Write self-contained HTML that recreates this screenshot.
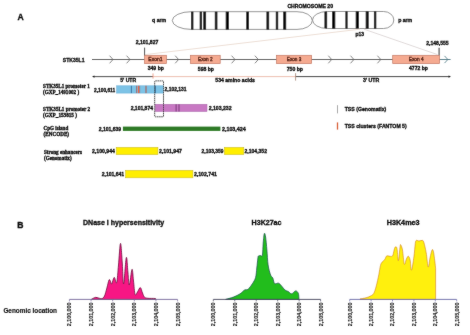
<!DOCTYPE html>
<html><head><meta charset="utf-8"><style>
html,body{margin:0;padding:0;background:#fff;}
svg{display:block;will-change:transform;}

</style></head><body>
<svg width="470" height="335" viewBox="0 0 470 335">
<rect width="470" height="335" fill="#fff"/>
<filter id="bl" filterUnits="userSpaceOnUse" x="0" y="0" width="470" height="335"><feConvolveMatrix order="3" kernelMatrix="0.0188 0.0375 0.0188 0.0375 0.7750 0.0375 0.0188 0.0375 0.0188" edgeMode="duplicate" preserveAlpha="false"/></filter>
<g filter="url(#bl)">
<text x="17.6" y="19.7" font-size="8.6" font-weight="bold" style="font-family:'Liberation Sans', sans-serif" fill="#111" text-anchor="start"  stroke="#111" stroke-width="0.34">A</text>
<defs><clipPath id="chr"><path d="M191.3,11.7 L297,11.7 A15.3,8.85 0 0 1 297,29.4 L191.3,29.4 A19.0,8.85 0 0 1 191.3,11.7 Z"/><path d="M327.5,11.5 L383.5,11.5 A10.3,8.5 0 0 1 383.5,28.5 L327.5,28.5 A15,8.5 0 0 1 327.5,11.5 Z"/></clipPath></defs>
<path d="M191.3,11.7 L297,11.7 A15.3,8.85 0 0 1 297,29.4 L191.3,29.4 A19.0,8.85 0 0 1 191.3,11.7 Z" fill="#fff" stroke="#777" stroke-width="0.8"/>
<path d="M327.5,11.5 L383.5,11.5 A10.3,8.5 0 0 1 383.5,28.5 L327.5,28.5 A15,8.5 0 0 1 327.5,11.5 Z" fill="#fff" stroke="#777" stroke-width="0.8"/>
<g clip-path="url(#chr)" fill="#000">
<rect x="191.02" y="10" width="2.35" height="21"/>
<rect x="199.72" y="10" width="2.35" height="21"/>
<rect x="203.32" y="10" width="2.75" height="21"/>
<rect x="214.82" y="10" width="2.55" height="21"/>
<rect x="225.73" y="10" width="3.15" height="21"/>
<rect x="246.28" y="10" width="2.65" height="21"/>
<rect x="266.48" y="10" width="2.65" height="21"/>
<rect x="275.82" y="10" width="2.35" height="21"/>
<rect x="283.22" y="10" width="2.95" height="21"/>
<rect x="324.48" y="10" width="2.65" height="21"/>
<rect x="332.12" y="10" width="3.15" height="21"/>
<rect x="345.43" y="10" width="2.15" height="21"/>
<rect x="355.73" y="10" width="3.15" height="21"/>
<rect x="365.72" y="10" width="2.95" height="21"/>
<rect x="373.93" y="10" width="2.35" height="21"/>
</g>
<text x="287.4" y="7.5" font-size="5.3" font-weight="bold" style="font-family:'Liberation Sans', sans-serif" fill="#111" text-anchor="start" textLength="45.6" lengthAdjust="spacingAndGlyphs"  stroke="#111" stroke-width="0.34">CHROMOSOME 20</text>
<text x="152.1" y="21.9" font-size="5.6" font-weight="bold" style="font-family:'Liberation Sans', sans-serif" fill="#111" text-anchor="start" textLength="14" lengthAdjust="spacingAndGlyphs"  stroke="#111" stroke-width="0.34">q arm</text>
<text x="398.2" y="22.2" font-size="5.6" font-weight="bold" style="font-family:'Liberation Sans', sans-serif" fill="#111" text-anchor="start" textLength="14" lengthAdjust="spacingAndGlyphs"  stroke="#111" stroke-width="0.34">p arm</text>
<text x="355.5" y="36.3" font-size="5.6" font-weight="bold" style="font-family:'Liberation Sans', sans-serif" fill="#111" text-anchor="start" textLength="8.6" lengthAdjust="spacingAndGlyphs"  stroke="#111" stroke-width="0.34">p13</text>
<line x1="145" y1="54.6" x2="360" y2="29.2" stroke="#eddfd6" stroke-width="1"/>
<line x1="364" y1="29.2" x2="437.5" y2="54.6" stroke="#e0dada" stroke-width="1"/>
<line x1="92" y1="59.5" x2="440" y2="59.5" stroke="#555" stroke-width="0.9"/>
<line x1="439.7" y1="59.5" x2="450.6" y2="59.5" stroke="#4d7683" stroke-width="0.9"/>
<polyline points="109.6,55.7 113,59.5 109.6,63.3" fill="none" stroke="#666" stroke-width="0.8"/>
<polyline points="126.6,55.7 130,59.5 126.6,63.3" fill="none" stroke="#666" stroke-width="0.8"/>
<polyline points="175.2,55.7 178.6,59.5 175.2,63.3" fill="none" stroke="#666" stroke-width="0.8"/>
<polyline points="231.6,55.7 235,59.5 231.6,63.3" fill="none" stroke="#666" stroke-width="0.8"/>
<polyline points="254.9,55.7 258.3,59.5 254.9,63.3" fill="none" stroke="#666" stroke-width="0.8"/>
<polyline points="328.3,55.7 331.7,59.5 328.3,63.3" fill="none" stroke="#666" stroke-width="0.8"/>
<polyline points="350.5,55.7 353.9,59.5 350.5,63.3" fill="none" stroke="#666" stroke-width="0.8"/>
<polyline points="377.40000000000003,55.7 380.8,59.5 377.40000000000003,63.3" fill="none" stroke="#666" stroke-width="0.8"/>
<polyline points="444.5,55.9 447.9,59.5 444.5,63.1" fill="none" stroke="#4d7683" stroke-width="0.8"/>
<text x="62.8" y="61.9" font-size="5.8" font-weight="bold" style="font-family:'Liberation Sans', sans-serif" fill="#111" text-anchor="start" textLength="21.7" lengthAdjust="spacingAndGlyphs"  stroke="#111" stroke-width="0.34">STK35L1</text>
<rect x="144.5" y="55.3" width="21.900000000000006" height="8.3" fill="#f5aa91" stroke="#c47a66" stroke-width="0.7"/>
<text x="155.45" y="61.2" font-size="5.4" font-weight="normal" style="font-family:'Liberation Sans', sans-serif" fill="#4a1608" text-anchor="middle" textLength="14.2" lengthAdjust="spacingAndGlyphs" stroke="#4a1608" stroke-width="0.35">Exon1</text>
<rect x="190.4" y="55.3" width="29.799999999999983" height="8.3" fill="#f5aa91" stroke="#c47a66" stroke-width="0.7"/>
<text x="205.3" y="61.2" font-size="5.4" font-weight="normal" style="font-family:'Liberation Sans', sans-serif" fill="#4a1608" text-anchor="middle" textLength="14.6" lengthAdjust="spacingAndGlyphs" stroke="#4a1608" stroke-width="0.35">Exon 2</text>
<rect x="276.5" y="55.3" width="35.10000000000002" height="8.3" fill="#f5aa91" stroke="#c47a66" stroke-width="0.7"/>
<text x="294.05" y="61.2" font-size="5.4" font-weight="normal" style="font-family:'Liberation Sans', sans-serif" fill="#4a1608" text-anchor="middle" textLength="14.6" lengthAdjust="spacingAndGlyphs" stroke="#4a1608" stroke-width="0.35">Exon 3</text>
<rect x="392.7" y="55.3" width="46.900000000000034" height="8.3" fill="#f5aa91" stroke="#c47a66" stroke-width="0.7"/>
<text x="416.15" y="61.2" font-size="5.4" font-weight="normal" style="font-family:'Liberation Sans', sans-serif" fill="#4a1608" text-anchor="middle" textLength="14.9" lengthAdjust="spacingAndGlyphs" stroke="#4a1608" stroke-width="0.35">Exon 4</text>
<line x1="144.6" y1="47.6" x2="144.6" y2="55.3" stroke="#555" stroke-width="1"/>
<line x1="439.1" y1="47.8" x2="439.1" y2="55.3" stroke="#555" stroke-width="1.2"/>
<text x="135.7" y="44.3" font-size="5.6" font-weight="bold" style="font-family:'Liberation Sans', sans-serif" fill="#111" text-anchor="start" textLength="22.6" lengthAdjust="spacingAndGlyphs"  stroke="#111" stroke-width="0.34">2,101,827</text>
<text x="426.2" y="45.2" font-size="5.6" font-weight="bold" style="font-family:'Liberation Sans', sans-serif" fill="#111" text-anchor="start" textLength="22.5" lengthAdjust="spacingAndGlyphs"  stroke="#111" stroke-width="0.34">2,148,555</text>
<text x="147.7" y="70.2" font-size="5.6" font-weight="bold" style="font-family:'Liberation Sans', sans-serif" fill="#111" text-anchor="start" textLength="16.2" lengthAdjust="spacingAndGlyphs"  stroke="#111" stroke-width="0.34">349 bp</text>
<text x="197.8" y="70.6" font-size="5.6" font-weight="bold" style="font-family:'Liberation Sans', sans-serif" fill="#111" text-anchor="start" textLength="16.2" lengthAdjust="spacingAndGlyphs"  stroke="#111" stroke-width="0.34">598 bp</text>
<text x="286.7" y="70.5" font-size="5.6" font-weight="bold" style="font-family:'Liberation Sans', sans-serif" fill="#111" text-anchor="start" textLength="16.3" lengthAdjust="spacingAndGlyphs"  stroke="#111" stroke-width="0.34">750 bp</text>
<text x="409" y="70.2" font-size="5.6" font-weight="bold" style="font-family:'Liberation Sans', sans-serif" fill="#111" text-anchor="start" textLength="18.9" lengthAdjust="spacingAndGlyphs"  stroke="#111" stroke-width="0.34">4772 bp</text>
<line x1="93" y1="76.6" x2="153" y2="76.6" stroke="#222" stroke-width="0.8"/>
<polygon points="92,76.6 94.5,75.39999999999999 94.5,77.8" fill="#222"/>
<line x1="153" y1="76.6" x2="295.6" y2="76.6" stroke="#e6a590" stroke-width="0.7"/>
<line x1="295.6" y1="76.6" x2="450" y2="76.6" stroke="#333" stroke-width="0.9"/>
<polygon points="451,76.6 448.5,75.39999999999999 448.5,77.8" fill="#222"/>
<line x1="153" y1="73.4" x2="153" y2="78.6" stroke="#e8907a" stroke-width="0.8"/>
<line x1="295.6" y1="73.2" x2="295.6" y2="80.6" stroke="#a08070" stroke-width="0.8"/>
<text x="120.2" y="82.0" font-size="5.6" font-weight="bold" style="font-family:'Liberation Sans', sans-serif" fill="#111" text-anchor="start" textLength="16" lengthAdjust="spacingAndGlyphs"  stroke="#111" stroke-width="0.34">5' UTR</text>
<text x="215.3" y="82.2" font-size="5.6" font-weight="bold" style="font-family:'Liberation Sans', sans-serif" fill="#111" text-anchor="start" textLength="39.6" lengthAdjust="spacingAndGlyphs"  stroke="#111" stroke-width="0.34">534 amino acids</text>
<text x="362.9" y="82.3" font-size="5.6" font-weight="bold" style="font-family:'Liberation Sans', sans-serif" fill="#111" text-anchor="start" textLength="16.4" lengthAdjust="spacingAndGlyphs"  stroke="#111" stroke-width="0.34">3' UTR</text>
<text x="43.1" y="88.0" font-size="5.3" font-weight="bold" style="font-family:'Liberation Serif', serif" fill="#111" text-anchor="start" textLength="46.6" lengthAdjust="spacingAndGlyphs"  stroke="#111" stroke-width="0.35">STK35L1 promoter 1</text>
<text x="43.1" y="93.9" font-size="5.3" font-weight="bold" style="font-family:'Liberation Serif', serif" fill="#111" text-anchor="start" textLength="36" lengthAdjust="spacingAndGlyphs"  stroke="#111" stroke-width="0.35">(GXP_1491002 )</text>
<text x="43.1" y="111.0" font-size="5.3" font-weight="bold" style="font-family:'Liberation Serif', serif" fill="#111" text-anchor="start" textLength="47" lengthAdjust="spacingAndGlyphs"  stroke="#111" stroke-width="0.35">STK35L1 promoter 2</text>
<text x="43.1" y="116.9" font-size="5.3" font-weight="bold" style="font-family:'Liberation Serif', serif" fill="#111" text-anchor="start" textLength="33.9" lengthAdjust="spacingAndGlyphs"  stroke="#111" stroke-width="0.35">(GXP_153815 )</text>
<text x="43.6" y="129.5" font-size="5.3" font-weight="bold" style="font-family:'Liberation Serif', serif" fill="#111" text-anchor="start" textLength="24.6" lengthAdjust="spacingAndGlyphs"  stroke="#111" stroke-width="0.35">CpG island</text>
<text x="43.6" y="135.5" font-size="5.3" font-weight="bold" style="font-family:'Liberation Serif', serif" fill="#111" text-anchor="start" textLength="25.5" lengthAdjust="spacingAndGlyphs"  stroke="#111" stroke-width="0.35">(ENCODE)</text>
<text x="44" y="153.7" font-size="5.3" font-weight="bold" style="font-family:'Liberation Serif', serif" fill="#111" text-anchor="start" textLength="38" lengthAdjust="spacingAndGlyphs"  stroke="#111" stroke-width="0.35">Strong enhancers</text>
<text x="44" y="159.7" font-size="5.3" font-weight="bold" style="font-family:'Liberation Serif', serif" fill="#111" text-anchor="start" textLength="27.6" lengthAdjust="spacingAndGlyphs"  stroke="#111" stroke-width="0.35">(Genomatix)</text>
<rect x="116.6" y="85.8" width="46.6" height="7.3" fill="#7dc3e6" stroke="#62acd6" stroke-width="0.5"/>
<rect x="130.9" y="85.8" width="0.8" height="7.3" fill="#2a5f8f"/>
<rect x="136.15" y="85.8" width="0.9" height="7.3" fill="#9a6a6a"/>
<rect x="137.8" y="85.8" width="1.2" height="7.3" fill="#e8603e"/>
<rect x="139.29999999999998" y="85.8" width="0.8" height="7.3" fill="#a06a66"/>
<rect x="145.3" y="85.8" width="1.4" height="7.3" fill="#a07070"/>
<rect x="154.9" y="85.8" width="0.8" height="7.3" fill="#2a5f8f"/>
<text x="94" y="91.6" font-size="5.6" font-weight="bold" style="font-family:'Liberation Sans', sans-serif" fill="#111" text-anchor="start" textLength="21.2" lengthAdjust="spacingAndGlyphs"  stroke="#111" stroke-width="0.34">2,100,611</text>
<text x="164.6" y="91.4" font-size="5.6" font-weight="bold" style="font-family:'Liberation Sans', sans-serif" fill="#111" text-anchor="start" textLength="22" lengthAdjust="spacingAndGlyphs"  stroke="#111" stroke-width="0.34">2,102,131</text>
<rect x="155.3" y="104.3" width="51.7" height="7.2" fill="#c878c3" stroke="#a864a8" stroke-width="0.5"/>
<rect x="175.6" y="104.3" width="1" height="7.2" fill="#7a3a7a"/>
<rect x="178.5" y="104.3" width="1" height="7.2" fill="#7a3a7a"/>
<text x="130.7" y="110.4" font-size="5.6" font-weight="bold" style="font-family:'Liberation Sans', sans-serif" fill="#111" text-anchor="start" textLength="22.3" lengthAdjust="spacingAndGlyphs"  stroke="#111" stroke-width="0.34">2,101,874</text>
<text x="208.7" y="110.4" font-size="5.6" font-weight="bold" style="font-family:'Liberation Sans', sans-serif" fill="#111" text-anchor="start" textLength="22.8" lengthAdjust="spacingAndGlyphs"  stroke="#111" stroke-width="0.34">2,103,232</text>
<rect x="154.7" y="80.9" width="8.8" height="35.9" rx="0.6" fill="none" stroke="#333" stroke-width="0.85" stroke-dasharray="1.6,0.5"/>
<rect x="122.9" y="126.6" width="97.5" height="4.3" fill="#2f7a26"/>
<text x="98.7" y="131.0" font-size="5.6" font-weight="bold" style="font-family:'Liberation Sans', sans-serif" fill="#111" text-anchor="start" textLength="22.4" lengthAdjust="spacingAndGlyphs"  stroke="#111" stroke-width="0.34">2,101,639</text>
<text x="222" y="131.0" font-size="5.6" font-weight="bold" style="font-family:'Liberation Sans', sans-serif" fill="#111" text-anchor="start" textLength="23.7" lengthAdjust="spacingAndGlyphs"  stroke="#111" stroke-width="0.34">2,103,424</text>
<rect x="116.2" y="147.4" width="41.7" height="7.199999999999989" fill="#ffee00" stroke="#cdbf2a" stroke-width="0.6"/>
<rect x="224.3" y="147.4" width="19.5" height="7.199999999999989" fill="#ffee00" stroke="#cdbf2a" stroke-width="0.6"/>
<rect x="125.6" y="170.3" width="67.30000000000001" height="7.5" fill="#ffee00" stroke="#cdbf2a" stroke-width="0.6"/>
<text x="92" y="153.4" font-size="5.6" font-weight="bold" style="font-family:'Liberation Sans', sans-serif" fill="#111" text-anchor="start" textLength="23" lengthAdjust="spacingAndGlyphs"  stroke="#111" stroke-width="0.34">2,100,944</text>
<text x="159" y="153.2" font-size="5.6" font-weight="bold" style="font-family:'Liberation Sans', sans-serif" fill="#111" text-anchor="start" textLength="23" lengthAdjust="spacingAndGlyphs"  stroke="#111" stroke-width="0.34">2,101,947</text>
<text x="201.6" y="153.2" font-size="5.6" font-weight="bold" style="font-family:'Liberation Sans', sans-serif" fill="#111" text-anchor="start" textLength="21.9" lengthAdjust="spacingAndGlyphs"  stroke="#111" stroke-width="0.34">2,103,359</text>
<text x="244.5" y="153.2" font-size="5.6" font-weight="bold" style="font-family:'Liberation Sans', sans-serif" fill="#111" text-anchor="start" textLength="22.5" lengthAdjust="spacingAndGlyphs"  stroke="#111" stroke-width="0.34">2,104,352</text>
<text x="101.7" y="176.3" font-size="5.6" font-weight="bold" style="font-family:'Liberation Sans', sans-serif" fill="#111" text-anchor="start" textLength="22.5" lengthAdjust="spacingAndGlyphs"  stroke="#111" stroke-width="0.34">2,101,641</text>
<text x="193.9" y="176.0" font-size="5.6" font-weight="bold" style="font-family:'Liberation Sans', sans-serif" fill="#111" text-anchor="start" textLength="23" lengthAdjust="spacingAndGlyphs"  stroke="#111" stroke-width="0.34">2,102,741</text>
<line x1="337.5" y1="105.2" x2="337.5" y2="113.4" stroke="#aaa" stroke-width="1"/>
<line x1="337.5" y1="122.4" x2="337.5" y2="129.6" stroke="#d8603a" stroke-width="1.3"/>
<text x="344.7" y="111.3" font-size="5.6" font-weight="bold" style="font-family:'Liberation Sans', sans-serif" fill="#111" text-anchor="start" textLength="41.6" lengthAdjust="spacingAndGlyphs"  stroke="#111" stroke-width="0.34">TSS (Genomatix)</text>
<text x="344.7" y="127.9" font-size="5.6" font-weight="bold" style="font-family:'Liberation Sans', sans-serif" fill="#111" text-anchor="start" textLength="62" lengthAdjust="spacingAndGlyphs"  stroke="#111" stroke-width="0.34">TSS clusters (FANTOM 5)</text>
<text x="17.3" y="228.3" font-size="8.6" font-weight="bold" style="font-family:'Liberation Sans', sans-serif" fill="#111" text-anchor="start"  stroke="#111" stroke-width="0.34">B</text>
<text x="83.0" y="225.3" font-size="7.0" font-weight="bold" style="font-family:'Liberation Sans', sans-serif" fill="#111" text-anchor="start" textLength="81.2" lengthAdjust="spacingAndGlyphs"  stroke="#111" stroke-width="0.34">DNase I hypersensitivity</text>
<text x="251.6" y="225.3" font-size="7.0" font-weight="bold" style="font-family:'Liberation Sans', sans-serif" fill="#111" text-anchor="start" textLength="29.9" lengthAdjust="spacingAndGlyphs"  stroke="#111" stroke-width="0.34">H3K27ac</text>
<text x="386.7" y="225.3" font-size="7.0" font-weight="bold" style="font-family:'Liberation Sans', sans-serif" fill="#111" text-anchor="start" textLength="32.9" lengthAdjust="spacingAndGlyphs"  stroke="#111" stroke-width="0.34">H3K4me3</text>
<text x="3.4" y="312.6" font-size="6.4" font-weight="bold" style="font-family:'Liberation Sans', sans-serif" fill="#111" text-anchor="start" textLength="53.6" lengthAdjust="spacingAndGlyphs"  stroke="#111" stroke-width="0.15">Genomic location</text>
<path d="M91.3,299.4 C91.98,299.07 94.12,297.60 95.40,297.40 C96.68,297.20 97.90,298.00 99.00,298.20 C100.10,298.40 101.08,298.97 102.00,298.60 C102.92,298.23 103.68,297.77 104.50,296.00 C105.32,294.23 106.15,290.67 106.90,288.00 C107.65,285.33 108.43,281.17 109.00,280.00 C109.57,278.83 109.85,280.33 110.30,281.00 C110.75,281.67 111.05,284.60 111.70,284.00 C112.35,283.40 113.37,277.63 114.20,277.40 C115.03,277.17 115.98,284.67 116.70,282.60 C117.42,280.53 117.87,271.53 118.50,265.00 C119.13,258.47 119.88,243.90 120.50,243.40 C121.12,242.90 121.68,255.23 122.20,262.00 C122.72,268.77 122.92,284.73 123.60,284.00 C124.28,283.27 125.58,259.60 126.30,257.60 C127.02,255.60 127.40,267.43 127.90,272.00 C128.40,276.57 128.62,285.43 129.30,285.00 C129.98,284.57 131.30,270.07 132.00,269.40 C132.70,268.73 132.98,276.82 133.50,281.00 C134.02,285.18 134.43,292.67 135.10,294.50 C135.77,296.33 136.63,293.15 137.50,292.00 C138.37,290.85 139.47,287.43 140.30,287.60 C141.13,287.77 141.80,291.40 142.50,293.00 C143.20,294.60 143.58,296.32 144.50,297.20 C145.42,298.08 146.25,298.08 148.00,298.30 C149.75,298.52 153.67,298.32 155.00,298.50 C156.33,298.68 155.83,299.25 156.00,299.40 Z" fill="#f71584" stroke="#6a0f3c" stroke-width="0.8" stroke-linejoin="round"/>
<path d="M225.6,299.4 C226.90,299.02 230.98,298.03 233.40,297.10 C235.82,296.17 238.23,294.98 240.10,293.80 C241.97,292.62 243.28,290.75 244.60,290.00 C245.92,289.25 246.70,290.35 248.00,289.30 C249.30,288.25 251.13,285.67 252.40,283.70 C253.67,281.73 254.87,280.12 255.60,277.50 C256.33,274.88 256.43,271.08 256.80,268.00 C257.17,264.92 257.53,261.00 257.80,259.00 C258.07,257.00 257.95,256.57 258.40,256.00 C258.85,255.43 259.83,255.72 260.50,255.60 C261.17,255.48 261.95,257.40 262.40,255.30 C262.85,253.20 262.88,246.62 263.20,243.00 C263.52,239.38 263.90,234.60 264.30,233.60 C264.70,232.60 265.17,234.27 265.60,237.00 C266.03,239.73 266.48,245.33 266.90,250.00 C267.32,254.67 267.48,260.83 268.10,265.00 C268.72,269.17 269.82,272.83 270.60,275.00 C271.38,277.17 272.13,276.58 272.80,278.00 C273.47,279.42 273.63,282.63 274.60,283.50 C275.57,284.37 277.45,282.80 278.60,283.20 C279.75,283.60 280.45,284.77 281.50,285.90 C282.55,287.03 283.78,289.07 284.90,290.00 C286.02,290.93 287.08,290.87 288.20,291.50 C289.32,292.13 290.37,293.90 291.60,293.80 C292.83,293.70 294.48,290.98 295.60,290.90 C296.72,290.82 297.73,291.88 298.30,293.30 C298.87,294.72 298.88,298.38 299.00,299.40 Z" fill="#22bd1c" stroke="#1d4f50" stroke-width="0.75" stroke-linejoin="round"/>
<path d="M360,298.9 C361.00,298.72 364.28,298.27 366.00,297.80 C367.72,297.33 369.02,296.82 370.30,296.10 C371.58,295.38 372.70,295.20 373.70,293.50 C374.70,291.80 375.45,289.02 376.30,285.90 C377.15,282.78 378.10,278.22 378.80,274.80 C379.50,271.38 379.93,267.53 380.50,265.40 C381.07,263.27 381.48,262.98 382.20,262.00 C382.92,261.02 384.08,260.48 384.80,259.50 C385.52,258.52 385.80,256.67 386.50,256.10 C387.20,255.53 388.15,256.05 389.00,256.10 C389.85,256.15 390.93,256.62 391.60,256.40 C392.27,256.18 392.52,256.10 393.00,254.80 C393.48,253.50 394.08,249.92 394.50,248.60 C394.92,247.28 395.08,246.90 395.50,246.90 C395.92,246.90 396.52,246.30 397.00,248.60 C397.48,250.90 397.88,261.05 398.40,260.70 C398.92,260.35 399.70,249.12 400.10,246.50 C400.50,243.88 400.40,244.42 400.80,245.00 C401.20,245.58 401.92,246.80 402.50,250.00 C403.08,253.20 403.65,262.70 404.30,264.20 C404.95,265.70 405.73,260.33 406.40,259.00 C407.07,257.67 407.68,256.03 408.30,256.20 C408.92,256.37 409.57,257.67 410.10,260.00 C410.63,262.33 410.87,270.72 411.50,270.20 C412.13,269.68 413.27,261.37 413.90,256.90 C414.53,252.43 414.90,246.15 415.30,243.40 C415.70,240.65 415.68,240.80 416.30,240.40 C416.92,240.00 418.02,241.00 419.00,241.00 C419.98,241.00 421.40,240.20 422.20,240.40 C423.00,240.60 423.13,240.12 423.80,242.20 C424.47,244.28 425.47,248.77 426.20,252.90 C426.93,257.03 427.57,266.15 428.20,267.00 C428.83,267.85 429.35,260.85 430.00,258.00 C430.65,255.15 431.52,250.90 432.10,249.90 C432.68,248.90 433.05,250.13 433.50,252.00 C433.95,253.87 434.45,258.37 434.80,261.10 C435.15,263.83 435.47,267.18 435.60,268.40 L435.6,299.4 L360,299.4 Z" fill="#fff00a" stroke="#d07a20" stroke-width="0.6" stroke-linejoin="round"/>
<line x1="69.4" y1="299.4" x2="177.60000000000002" y2="299.4" stroke="#76689a" stroke-width="0.9"/>
<line x1="69.4" y1="299.4" x2="69.4" y2="301.4" stroke="#76689a" stroke-width="0.7"/>
<text transform="translate(71.30,302.6) rotate(-90)" x="0" y="0" style="font-family:'Liberation Sans', sans-serif" font-size="5.3" font-weight="bold" fill="#1a1a1a" stroke="#1a1a1a" stroke-width="0.12" text-anchor="end" textLength="23.6" lengthAdjust="spacingAndGlyphs">2,100,000</text>
<line x1="91.04" y1="299.4" x2="91.04" y2="301.4" stroke="#76689a" stroke-width="0.7"/>
<text transform="translate(92.94,302.6) rotate(-90)" x="0" y="0" style="font-family:'Liberation Sans', sans-serif" font-size="5.3" font-weight="bold" fill="#1a1a1a" stroke="#1a1a1a" stroke-width="0.12" text-anchor="end" textLength="23.6" lengthAdjust="spacingAndGlyphs">2,101,000</text>
<line x1="112.68" y1="299.4" x2="112.68" y2="301.4" stroke="#76689a" stroke-width="0.7"/>
<text transform="translate(114.58,302.6) rotate(-90)" x="0" y="0" style="font-family:'Liberation Sans', sans-serif" font-size="5.3" font-weight="bold" fill="#1a1a1a" stroke="#1a1a1a" stroke-width="0.12" text-anchor="end" textLength="23.6" lengthAdjust="spacingAndGlyphs">2,102,000</text>
<line x1="134.32" y1="299.4" x2="134.32" y2="301.4" stroke="#76689a" stroke-width="0.7"/>
<text transform="translate(136.22,302.6) rotate(-90)" x="0" y="0" style="font-family:'Liberation Sans', sans-serif" font-size="5.3" font-weight="bold" fill="#1a1a1a" stroke="#1a1a1a" stroke-width="0.12" text-anchor="end" textLength="23.6" lengthAdjust="spacingAndGlyphs">2,103,000</text>
<line x1="155.96" y1="299.4" x2="155.96" y2="301.4" stroke="#76689a" stroke-width="0.7"/>
<text transform="translate(157.86,302.6) rotate(-90)" x="0" y="0" style="font-family:'Liberation Sans', sans-serif" font-size="5.3" font-weight="bold" fill="#1a1a1a" stroke="#1a1a1a" stroke-width="0.12" text-anchor="end" textLength="23.6" lengthAdjust="spacingAndGlyphs">2,104,000</text>
<line x1="177.60000000000002" y1="299.4" x2="177.60000000000002" y2="301.4" stroke="#76689a" stroke-width="0.7"/>
<text transform="translate(179.50,302.6) rotate(-90)" x="0" y="0" style="font-family:'Liberation Sans', sans-serif" font-size="5.3" font-weight="bold" fill="#1a1a1a" stroke="#1a1a1a" stroke-width="0.12" text-anchor="end" textLength="23.6" lengthAdjust="spacingAndGlyphs">2,105,000</text>
<line x1="213.3" y1="299.4" x2="320.6" y2="299.4" stroke="#44445a" stroke-width="0.9"/>
<line x1="213.3" y1="299.4" x2="213.3" y2="301.4" stroke="#44445a" stroke-width="0.7"/>
<text transform="translate(215.20,302.6) rotate(-90)" x="0" y="0" style="font-family:'Liberation Sans', sans-serif" font-size="5.3" font-weight="bold" fill="#1a1a1a" stroke="#1a1a1a" stroke-width="0.12" text-anchor="end" textLength="23.6" lengthAdjust="spacingAndGlyphs">2,100,000</text>
<line x1="234.76000000000002" y1="299.4" x2="234.76000000000002" y2="301.4" stroke="#44445a" stroke-width="0.7"/>
<text transform="translate(236.66,302.6) rotate(-90)" x="0" y="0" style="font-family:'Liberation Sans', sans-serif" font-size="5.3" font-weight="bold" fill="#1a1a1a" stroke="#1a1a1a" stroke-width="0.12" text-anchor="end" textLength="23.6" lengthAdjust="spacingAndGlyphs">2,101,000</text>
<line x1="256.22" y1="299.4" x2="256.22" y2="301.4" stroke="#44445a" stroke-width="0.7"/>
<text transform="translate(258.12,302.6) rotate(-90)" x="0" y="0" style="font-family:'Liberation Sans', sans-serif" font-size="5.3" font-weight="bold" fill="#1a1a1a" stroke="#1a1a1a" stroke-width="0.12" text-anchor="end" textLength="23.6" lengthAdjust="spacingAndGlyphs">2,102,000</text>
<line x1="277.68" y1="299.4" x2="277.68" y2="301.4" stroke="#44445a" stroke-width="0.7"/>
<text transform="translate(279.58,302.6) rotate(-90)" x="0" y="0" style="font-family:'Liberation Sans', sans-serif" font-size="5.3" font-weight="bold" fill="#1a1a1a" stroke="#1a1a1a" stroke-width="0.12" text-anchor="end" textLength="23.6" lengthAdjust="spacingAndGlyphs">2,103,000</text>
<line x1="299.14" y1="299.4" x2="299.14" y2="301.4" stroke="#44445a" stroke-width="0.7"/>
<text transform="translate(301.04,302.6) rotate(-90)" x="0" y="0" style="font-family:'Liberation Sans', sans-serif" font-size="5.3" font-weight="bold" fill="#1a1a1a" stroke="#1a1a1a" stroke-width="0.12" text-anchor="end" textLength="23.6" lengthAdjust="spacingAndGlyphs">2,104,000</text>
<line x1="320.6" y1="299.4" x2="320.6" y2="301.4" stroke="#44445a" stroke-width="0.7"/>
<text transform="translate(322.50,302.6) rotate(-90)" x="0" y="0" style="font-family:'Liberation Sans', sans-serif" font-size="5.3" font-weight="bold" fill="#1a1a1a" stroke="#1a1a1a" stroke-width="0.12" text-anchor="end" textLength="23.6" lengthAdjust="spacingAndGlyphs">2,105,000</text>
<line x1="349.7" y1="299.4" x2="456.7" y2="299.4" stroke="#6a6aa6" stroke-width="0.9"/>
<line x1="349.7" y1="299.4" x2="349.7" y2="301.4" stroke="#6a6aa6" stroke-width="0.7"/>
<text transform="translate(351.60,302.6) rotate(-90)" x="0" y="0" style="font-family:'Liberation Sans', sans-serif" font-size="5.3" font-weight="bold" fill="#1a1a1a" stroke="#1a1a1a" stroke-width="0.12" text-anchor="end" textLength="23.6" lengthAdjust="spacingAndGlyphs">2,100,000</text>
<line x1="371.09999999999997" y1="299.4" x2="371.09999999999997" y2="301.4" stroke="#6a6aa6" stroke-width="0.7"/>
<text transform="translate(373.00,302.6) rotate(-90)" x="0" y="0" style="font-family:'Liberation Sans', sans-serif" font-size="5.3" font-weight="bold" fill="#1a1a1a" stroke="#1a1a1a" stroke-width="0.12" text-anchor="end" textLength="23.6" lengthAdjust="spacingAndGlyphs">2,101,000</text>
<line x1="392.5" y1="299.4" x2="392.5" y2="301.4" stroke="#6a6aa6" stroke-width="0.7"/>
<text transform="translate(394.40,302.6) rotate(-90)" x="0" y="0" style="font-family:'Liberation Sans', sans-serif" font-size="5.3" font-weight="bold" fill="#1a1a1a" stroke="#1a1a1a" stroke-width="0.12" text-anchor="end" textLength="23.6" lengthAdjust="spacingAndGlyphs">2,102,000</text>
<line x1="413.9" y1="299.4" x2="413.9" y2="301.4" stroke="#6a6aa6" stroke-width="0.7"/>
<text transform="translate(415.80,302.6) rotate(-90)" x="0" y="0" style="font-family:'Liberation Sans', sans-serif" font-size="5.3" font-weight="bold" fill="#1a1a1a" stroke="#1a1a1a" stroke-width="0.12" text-anchor="end" textLength="23.6" lengthAdjust="spacingAndGlyphs">2,103,000</text>
<line x1="435.29999999999995" y1="299.4" x2="435.29999999999995" y2="301.4" stroke="#6a6aa6" stroke-width="0.7"/>
<text transform="translate(437.20,302.6) rotate(-90)" x="0" y="0" style="font-family:'Liberation Sans', sans-serif" font-size="5.3" font-weight="bold" fill="#1a1a1a" stroke="#1a1a1a" stroke-width="0.12" text-anchor="end" textLength="23.6" lengthAdjust="spacingAndGlyphs">2,104,000</text>
<line x1="456.7" y1="299.4" x2="456.7" y2="301.4" stroke="#6a6aa6" stroke-width="0.7"/>
<text transform="translate(458.60,302.6) rotate(-90)" x="0" y="0" style="font-family:'Liberation Sans', sans-serif" font-size="5.3" font-weight="bold" fill="#1a1a1a" stroke="#1a1a1a" stroke-width="0.12" text-anchor="end" textLength="23.6" lengthAdjust="spacingAndGlyphs">2,105,000</text>
</g></svg></body></html>
